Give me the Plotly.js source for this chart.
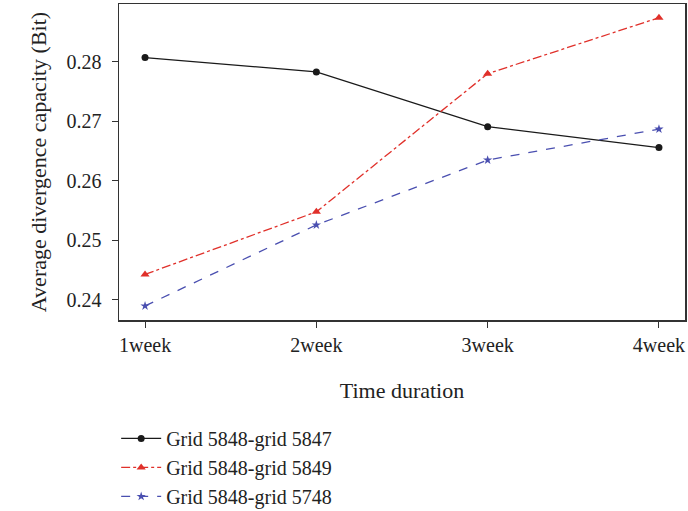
<!DOCTYPE html>
<html>
<head>
<meta charset="utf-8">
<script src="https://cdn.plot.ly/plotly-3.0.1.min.js"></script>
<style>html,body{margin:0;padding:0;background:#fff;}#chart{width:688px;height:511px;}</style>
</head>
<body>
<div id="chart"></div>
<script>
var categories = [1, 2, 3, 4];
var tickLabels = ["1week", "2week", "3week", "4week"];
var series5847 = [0.2807, 0.2783, 0.2691, 0.2656];
var series5849 = [0.2443, 0.2548, 0.2780, 0.2874];
var series5748 = [0.2390, 0.2526, 0.2635, 0.2687];
var names = ["Grid 5848-grid 5847", "Grid 5848-grid 5849", "Grid 5848-grid 5748"];

var font = "Liberation Serif, Times New Roman, serif";
var traces = [
  {x: categories, y: series5847, name: names[0], mode: "lines+markers",
   line: {color: "#1a1a1a", width: 1.3, dash: "solid"},
   marker: {symbol: "circle", size: 7, color: "#1a1a1a"}},
  {x: categories, y: series5849, name: names[1], mode: "lines+markers",
   line: {color: "#e0302a", width: 1.3, dash: "dashdot"},
   marker: {symbol: "triangle-up", size: 8, color: "#e0302a"}},
  {x: categories, y: series5748, name: names[2], mode: "lines+markers",
   line: {color: "#4a4fb0", width: 1.3, dash: "dash"},
   marker: {symbol: "star", size: 7, color: "#4a4fb0"}}
];
var layout = {
  width: 688, height: 511,
  margin: {l: 119, r: 3, t: 4, b: 191, autoexpand: false},
  paper_bgcolor: "#fff", plot_bgcolor: "#fff",
  font: {family: font, size: 20, color: "#222"},
  showlegend: true,
  legend: {x: -0.005, xanchor: "left", y: -0.313, yanchor: "top",
           font: {family: font, size: 20, color: "#222"},
           tracegroupgap: 0, itemwidth: 40, bgcolor: "rgba(0,0,0,0)"},
  xaxis: {range: [0.848, 4.152], tickvals: categories, ticktext: tickLabels, automargin: false,
          showgrid: false, zeroline: false, showline: true, linecolor: "#333", linewidth: 1.5,
          mirror: true, ticks: "outside", ticklen: 6, tickcolor: "#333",
          tickfont: {family: font, size: 20, color: "#222"},
          title: {text: "Time duration", font: {family: font, size: 22, color: "#222"}, standoff: 28}},
  yaxis: {range: [0.23664, 0.2897], tickvals: [0.24, 0.25, 0.26, 0.27, 0.28], automargin: false,
          ticktext: ["0.24", "0.25", "0.26", "0.27", "0.28"],
          showgrid: false, zeroline: false, showline: true, linecolor: "#333", linewidth: 1.5,
          mirror: true, ticks: "outside", ticklen: 6, tickcolor: "#333", ticklabelstandoff: 6,
          tickfont: {family: font, size: 20, color: "#222"},
          title: {text: "Average divergence capacity (Bit)", font: {family: font, size: 22, color: "#222"}, standoff: 14}}
};
Plotly.newPlot("chart", traces, layout, {displayModeBar: false, staticPlot: true});
</script>
</body>
</html>
